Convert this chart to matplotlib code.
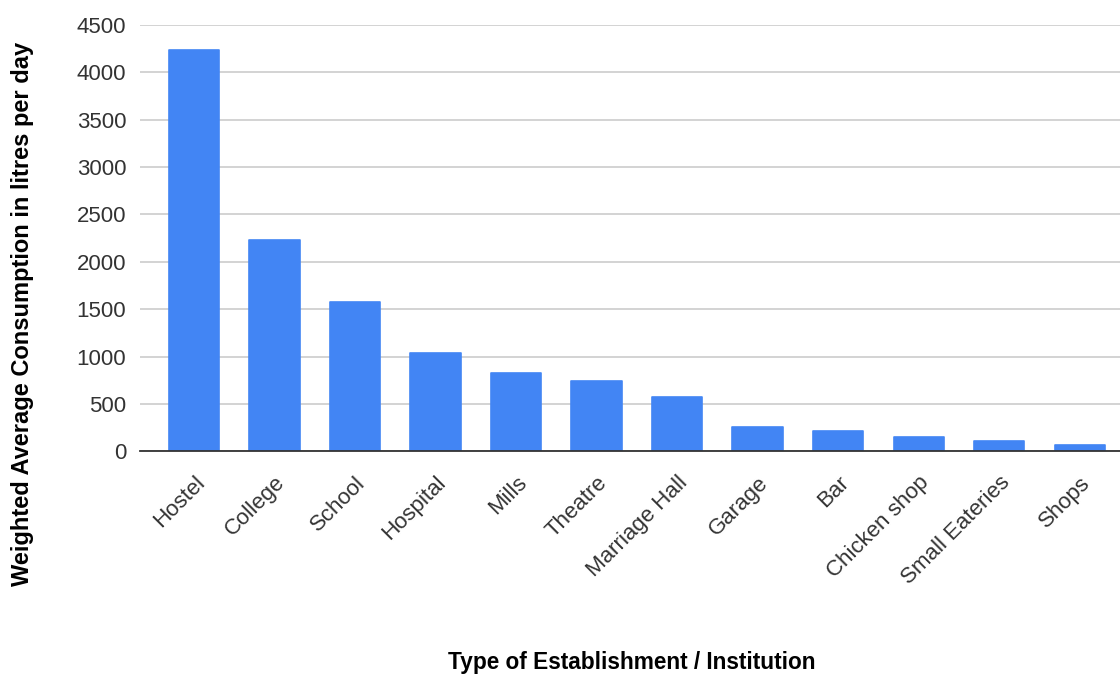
import matplotlib.pyplot as plt
import numpy as np

plt.rcParams['font.family'] = ['Liberation Sans', 'DejaVu Sans']

# data
categories = ['Hostel', 'College', 'School', 'Hospital', 'Mills', 'Theatre',
              'Marriage Hall', 'Garage', 'Bar', 'Chicken shop', 'Small Eateries', 'Shops']
consumption = [4240, 2230, 1580, 1035, 825, 740, 568, 256, 214, 150, 108, 66]
yticks = [0, 500, 1000, 1500, 2000, 2500, 3000, 3500, 4000, 4500]

fig = plt.figure(figsize=(11.2, 6.75), dpi=100)
ax = fig.add_axes([0.125, 0.3314, 0.875, 0.6316])

x = np.arange(len(categories))
bars = ax.bar(x, consumption, width=0.625, color='#4285f4', edgecolor='#4285f4',
              linewidth=1.2, zorder=3)
for b in bars:
    b.set_joinstyle('round')

ax.set_xlim(-0.67, 11.5)
ax.set_ylim(0, 4500)
ax.set_yticks(yticks)
ax.set_yticklabels([str(t) for t in yticks], fontsize=16, color='#333333')
ax.set_xticks(x)
ax.set_xticklabels(categories, rotation=45, ha='right', rotation_mode='anchor',
                   fontsize=16, color='#333333')
ax.tick_params(axis='y', length=0, pad=10)
ax.tick_params(axis='x', length=0, pad=15)

ax.grid(axis='y', color='#cccccc', linewidth=1.2, zorder=0)
for s in ['top', 'right', 'left']:
    ax.spines[s].set_visible(False)
ax.spines['bottom'].set_color('#333333')
ax.spines['bottom'].set_linewidth(1.3)
ax.spines['bottom'].set_zorder(4)

fig.text(0.564, 0.018, 'Type of Establishment / Institution', ha='center', va='center',
         fontsize=16.3, fontweight='bold')
fig.text(0.02, 0.535, 'Weighted Average Consumption in litres per day', ha='center', va='center',
         rotation=90, fontsize=17, fontweight='bold')

fig.savefig('out.png', dpi=100)
